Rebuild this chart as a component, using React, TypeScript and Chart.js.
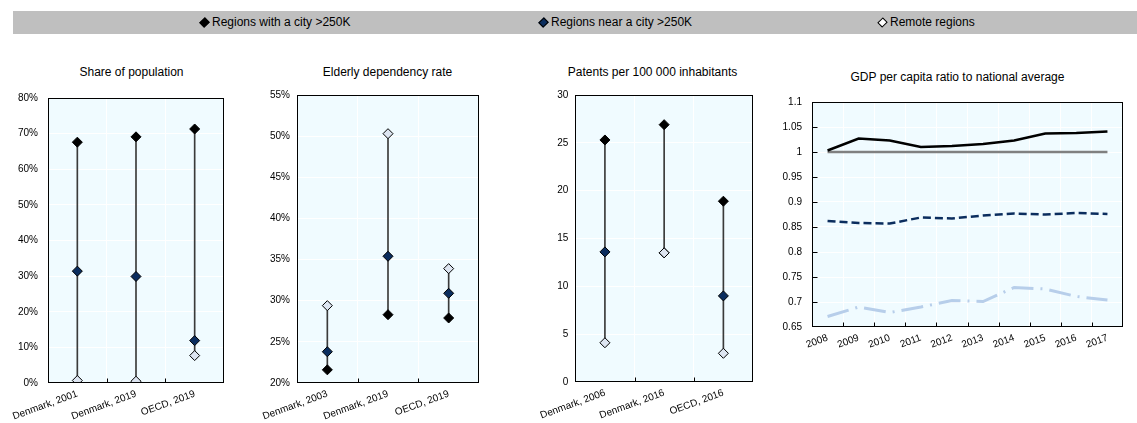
import React, { useEffect, useRef } from 'react';
import { Chart, registerables } from 'chart.js';

Chart.register(...registerables);

// ---------- Data ----------
const legendLabels = ['Regions with a city >250K', 'Regions near a city >250K', 'Remote regions'];

const popCategories = ['Denmark, 2001', 'Denmark, 2019', 'OECD, 2019'];
const popCity = [67.6, 69.1, 71.3];
const popNear = [31.4, 29.9, 11.9];
const popRemote = [0.7, 0.5, 7.7];

const eldCategories = ['Denmark, 2003', 'Denmark, 2019', 'OECD, 2019'];
const eldCity = [21.6, 28.3, 27.9];
const eldNear = [23.8, 35.4, 30.9];
const eldRemote = [29.4, 50.3, 33.9];

const patCategories = ['Denmark, 2006', 'Denmark, 2016', 'OECD, 2016'];
const patCity = [25.3, 26.9, 18.9];
const patNear = [13.6, 13.5, 9.0];
const patRemote = [4.1, 13.5, 3.0];

const gdpYears = ['2008', '2009', '2010', '2011', '2012', '2013', '2014', '2015', '2016', '2017'];
const gdpNational = [1, 1, 1, 1, 1, 1, 1, 1, 1, 1];
const gdpCity = [1.003, 1.027, 1.023, 1.01, 1.012, 1.016, 1.023, 1.037, 1.038, 1.041];
const gdpNear = [0.862, 0.858, 0.857, 0.869, 0.867, 0.873, 0.877, 0.875, 0.878, 0.876];
const gdpRemote = [0.671, 0.69, 0.679, 0.69, 0.703, 0.701, 0.729, 0.726, 0.711, 0.704];

const panelTitles = [
  'Share of population',
  'Elderly dependency rate',
  'Patents per 100 000 inhabitants',
  'GDP per capita ratio to national average',
];

// ---------- Styles ----------
const FONT = "'Liberation Sans', Arial, sans-serif";
const BLACK = '#000000';
const NAVY = '#0B2D5E';
const PALE = '#DDE5F1';
const REMOTE_LINE = '#B7CEEA';
const GREY_LINE = '#808080';
const PLOT_BG = '#F0FBFF';

function framePlugin(yTicks: boolean) {
  return {
    id: 'panelFrame',
    beforeDraw(chart: any) {
      const { ctx, chartArea: a } = chart;
      ctx.save();
      ctx.fillStyle = PLOT_BG;
      ctx.fillRect(a.left, a.top, a.right - a.left, a.bottom - a.top);
      ctx.restore();
    },
    afterDraw(chart: any) {
      const { ctx, chartArea: a, scales } = chart;
      ctx.save();
      ctx.strokeStyle = '#000';
      ctx.lineWidth = 1;
      const l = Math.round(a.left) + 0.5;
      const t = Math.round(a.top) + 0.5;
      const r = Math.round(a.right) - 0.5;
      const b = Math.round(a.bottom) - 0.5;
      ctx.strokeRect(l, t, r - l, b - t);
      const xs = scales.x;
      ctx.beginPath();
      for (let i = 1; i < xs.ticks.length; i++) {
        const px = Math.round((xs.getPixelForTick(i - 1) + xs.getPixelForTick(i)) / 2) + 0.5;
        ctx.moveTo(px, b);
        ctx.lineTo(px, b - 4);
      }
      if (yTicks) {
        const ys = scales.y;
        for (let i = 1; i < ys.ticks.length - 1; i++) {
          const py = Math.round(ys.getPixelForTick(i)) + 0.5;
          ctx.moveTo(l, py);
          ctx.lineTo(l + 5, py);
        }
      }
      ctx.stroke();
      ctx.restore();
    },
  };
}

type Geo = { yAxisWidth: number; xAxisHeight: number; padRight: number; yPad: number };

function baseOptions(geo: Geo, min: number, max: number, step: number, fmt: (v: number) => string) {
  return {
    responsive: false,
    animation: false,
    devicePixelRatio: 1,
    layout: { padding: { top: 10, right: geo.padRight, left: 0, bottom: 0 } },
    plugins: {
      legend: { display: false },
      tooltip: { enabled: false },
      title: { display: false },
    },
    scales: {
      x: {
        type: 'category',
        offset: true,
        grid: { offset: true, color: '#FFFFFF', drawTicks: false },
        border: { display: false },
        ticks: {
          font: { family: FONT, size: 10 },
          color: '#000',
          minRotation: 20,
          maxRotation: 20,
          padding: 5,
          autoSkip: false,
        },
        afterFit: (s: any) => {
          s.height = geo.xAxisHeight;
        },
      },
      y: {
        type: 'linear',
        min,
        max,
        grid: { color: '#FFFFFF', drawTicks: false },
        border: { display: false },
        ticks: {
          stepSize: step,
          padding: geo.yPad,
          font: { family: FONT, size: 10 },
          color: '#000',
          callback: (v: any) => fmt(Number(v)),
        },
        afterFit: (s: any) => {
          s.width = geo.yAxisWidth;
        },
      },
    },
  };
}

function dumbbellConfig(
  labels: string[],
  city: number[],
  near: number[],
  remote: number[],
  geo: Geo,
  min: number,
  max: number,
  step: number,
  fmt: (v: number) => string
) {
  const ranges = labels.map((_, i) => {
    const vals = [city[i], near[i], remote[i]];
    return [Math.min(...vals), Math.max(...vals)];
  });
  const pointDs = (label: string, data: number[], color: string, order: number) => ({
    type: 'line',
    label,
    data,
    showLine: false,
    pointStyle: 'rectRot',
    pointRadius: 5,
    pointHoverRadius: 5,
    pointBackgroundColor: color,
    pointBorderColor: '#000',
    pointBorderWidth: 1,
    backgroundColor: color,
    borderColor: '#000',
    order,
  });
  return {
    type: 'bar',
    data: {
      labels,
      datasets: [
        { type: 'bar', label: 'range', data: ranges, backgroundColor: '#3a3a3a', barThickness: 1, order: 10 },
        pointDs(legendLabels[0], city, BLACK, 3),
        pointDs(legendLabels[1], near, NAVY, 2),
        pointDs(legendLabels[2], remote, PALE, 1),
      ],
    },
    options: baseOptions(geo, min, max, step, fmt),
    plugins: [framePlugin(false)],
  };
}

function gdpConfig(geo: Geo) {
  const lineDs = (label: string, data: number[], color: string, width: number, dash: number[], order: number) => ({
    type: 'line',
    label,
    data,
    borderColor: color,
    backgroundColor: color,
    borderWidth: width,
    borderDash: dash,
    pointRadius: 0,
    pointHoverRadius: 0,
    tension: 0,
    fill: false,
    order,
  });
  return {
    type: 'line',
    data: {
      labels: gdpYears,
      datasets: [
        lineDs('National average', gdpNational, GREY_LINE, 2.5, [], 4),
        lineDs(legendLabels[0], gdpCity, BLACK, 2.5, [], 3),
        lineDs(legendLabels[1], gdpNear, NAVY, 2.5, [8, 4], 2),
        lineDs(legendLabels[2], gdpRemote, REMOTE_LINE, 3, [22, 7, 2, 7], 1),
      ],
    },
    options: baseOptions(geo, 0.65, 1.1, 0.05, (v) => String(Number(v.toFixed(2)))),
    plugins: [framePlugin(true)],
  };
}

const pct = (v: number) => `${Math.round(v)}%`;
const int = (v: number) => `${Math.round(v)}`;

function ChartPanel(props: { left: number; top: number; width: number; height: number; make: () => any }) {
  const ref = useRef<HTMLCanvasElement>(null);
  useEffect(() => {
    const chart = new Chart(ref.current as HTMLCanvasElement, props.make());
    return () => chart.destroy();
  }, []);
  return (
    <canvas
      ref={ref}
      width={props.width}
      height={props.height}
      style={{ position: 'absolute', left: props.left, top: props.top, width: props.width, height: props.height }}
    />
  );
}

function Title(props: { cx: number; cy: number; text: string }) {
  return (
    <div
      style={{
        position: 'absolute',
        left: props.cx - 150,
        top: props.cy - 7,
        width: 300,
        height: 14,
        lineHeight: '14px',
        textAlign: 'center',
        fontFamily: FONT,
        fontSize: 12,
        color: '#000',
        whiteSpace: 'nowrap',
      }}
    >
      {props.text}
    </div>
  );
}

function LegendItem(props: { left: number; fill: string; text: string }) {
  return (
    <div
      style={{
        position: 'absolute',
        left: props.left,
        top: 11,
        height: 23,
        lineHeight: '23px',
        fontFamily: FONT,
        fontSize: 12,
        color: '#000',
        whiteSpace: 'nowrap',
        display: 'flex',
        alignItems: 'center',
      }}
    >
      <span
        style={{
          display: 'inline-block',
          width: 5,
          height: 5,
          background: props.fill,
          border: '1px solid #000',
          transform: 'rotate(45deg) scale(1, 1.15)',
          marginRight: 4,
          marginLeft: 1,
        }}
      />
      <span>{props.text}</span>
    </div>
  );
}

export default function App() {
  return (
    <div style={{ position: 'absolute', left: 0, top: 0, width: 1137, height: 423, background: '#fff', overflow: 'hidden' }}>
      <div style={{ position: 'absolute', left: 13, top: 11, width: 1124, height: 23, background: '#BFBFBF' }} />
      <LegendItem left={200} fill={BLACK} text={legendLabels[0]} />
      <LegendItem left={539} fill={NAVY} text={legendLabels[1]} />
      <LegendItem left={878} fill="#FFFFFF" text={legendLabels[2]} />

      <Title cx={131.5} cy={72} text={panelTitles[0]} />
      <Title cx={387.5} cy={72} text={panelTitles[1]} />
      <Title cx={652.5} cy={72} text={panelTitles[2]} />
      <Title cx={957.5} cy={77} text={panelTitles[3]} />

      <ChartPanel
        left={0}
        top={82}
        width={262}
        height={341}
        make={() =>
          dumbbellConfig(popCategories, popCity, popNear, popRemote, { yAxisWidth: 48, xAxisHeight: 40, padRight: 38, yPad: 10 }, 0, 80, 10, pct)
        }
      />
      <ChartPanel
        left={250}
        top={82}
        width={274}
        height={341}
        make={() =>
          dumbbellConfig(eldCategories, eldCity, eldNear, eldRemote, { yAxisWidth: 47, xAxisHeight: 40, padRight: 45, yPad: 7 }, 20, 55, 5, pct)
        }
      />
      <ChartPanel
        left={530}
        top={82}
        width={240}
        height={341}
        make={() =>
          dumbbellConfig(patCategories, patCity, patNear, patRemote, { yAxisWidth: 34, xAxisHeight: 41, padRight: 17, yPad: 7 }, 0, 30, 5, int)
        }
      />
      <ChartPanel
        left={770}
        top={86}
        width={367}
        height={286}
        make={() => gdpConfig({ yAxisWidth: 42, xAxisHeight: 45, padRight: 14, yPad: 10 })}
      />
    </div>
  );
}
